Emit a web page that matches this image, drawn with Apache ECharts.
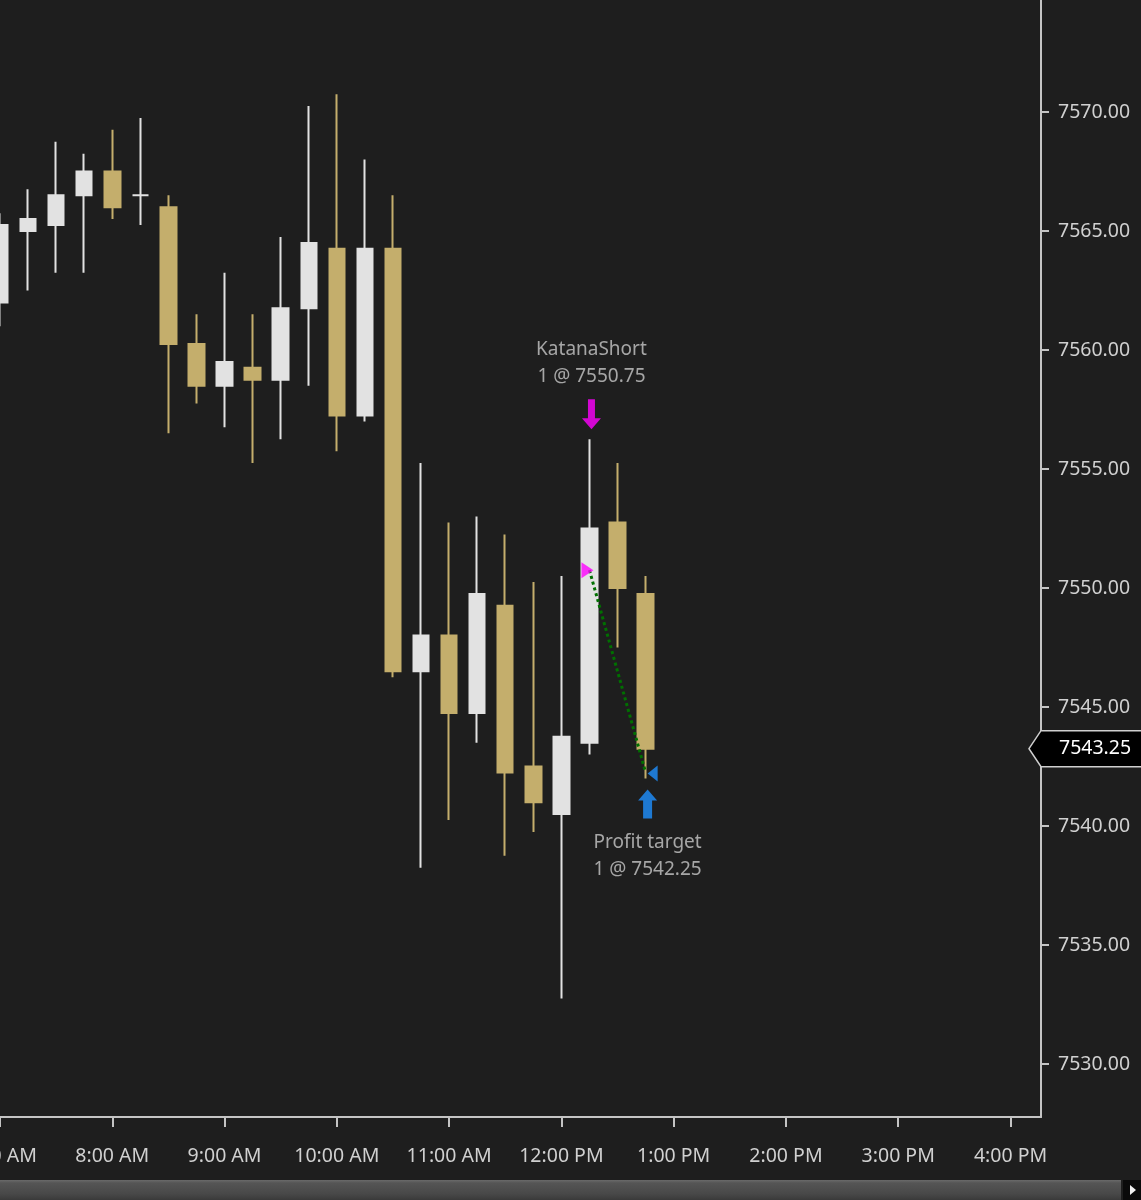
<!DOCTYPE html>
<html>
<head>
<meta charset="utf-8">
<script src="https://cdn.jsdelivr.net/npm/echarts@6/dist/echarts.min.js"></script>
<style>
  html, body { margin: 0; padding: 0; background: #1e1e1e; }
  #chart { width: 1141px; height: 1200px; }
</style>
</head>
<body>
<div id="chart"></div>
<script>
// ---- data ----
const times  = ['7:00','7:15','7:30','7:45','8:00','8:15','8:30','8:45','9:00','9:15','9:30','9:45',
                '10:00','10:15','10:30','10:45','11:00','11:15','11:30','11:45','12:00','12:15','12:30','12:45'];
const opens  = [7562, 7565, 7565.25, 7566.5, 7567.5, 7566.5, 7566, 7560.25, 7558.5, 7559.25, 7558.75, 7561.75,
                7564.25, 7557.25, 7564.25, 7546.5, 7548, 7544.75, 7549.25, 7542.5, 7540.5, 7543.5, 7552.75, 7549.75];
const closes = [7565.25, 7565.5, 7566.5, 7567.5, 7566, 7566.5, 7560.25, 7558.5, 7559.5, 7558.75, 7561.75, 7564.5,
                7557.25, 7564.25, 7546.5, 7548, 7544.75, 7549.75, 7542.25, 7541, 7543.75, 7552.5, 7550, 7543.25];
const lows   = [7561, 7562.5, 7563.25, 7563.25, 7565.5, 7565.25, 7556.5, 7557.75, 7556.75, 7555.25, 7556.25, 7558.5,
                7555.75, 7557, 7546.25, 7538.25, 7540.25, 7543.5, 7538.75, 7539.75, 7532.75, 7543, 7547.5, 7542];
const highs  = [7565.75, 7566.75, 7568.75, 7568.25, 7569.25, 7569.75, 7566.5, 7561.5, 7563.25, 7561.5, 7564.75, 7570.25,
                7570.75, 7568, 7566.5, 7555.25, 7552.75, 7553, 7552.25, 7550.25, 7550.5, 7556.25, 7555.25, 7550.5];

const yTickValues = [7530, 7535, 7540, 7545, 7550, 7555, 7560, 7565, 7570, 7575];
const xTickTimes  = ['7:00','8:00','9:00','10:00','11:00','12:00','13:00','14:00','15:00','16:00'];

const tradeNames  = ['KatanaShort', 'Profit target'];
const tradeQty    = [1, 1];
const tradeTimes  = ['12:15', '12:45'];
const tradePrices = [7550.75, 7542.25];

// ---- helpers ----
const toMin = t => { const p = t.split(':'); return (+p[0]) * 60 + (+p[1]); };
const fmtTime = v => {
  const h = Math.floor(v / 60), m = Math.round(v % 60);
  const ap = h >= 12 ? 'PM' : 'AM';
  const h12 = (h % 12) || 12;
  return h12 + ':' + (m < 10 ? '0' + m : m) + ' ' + ap;
};

const FONT = '"Noto Sans", "Open Sans", sans-serif';
const AXIS_COLOR = '#c4c4c4';
const LABEL_COLOR = '#d0d0d0';
const UP = '#e2e2e2', DOWN = '#c4ae6c';

const X_MIN = 420, X_MAX = 976.3;
const Y_MAX = 7575, Y_MIN = 7527.773;

const candleData = times.map((t, i) => [toMin(t), opens[i], closes[i], lows[i], highs[i]]);
const iEntry = times.indexOf(tradeTimes[0]);
const iExit  = times.indexOf(tradeTimes[1]);

const downArrow = 'path://M6,0 L13,0 L13,19 L19,19 L9.5,30 L0,19 L6,19 Z';
const upArrow   = 'path://M9.5,0 L19,11 L14,11 L14,29 L5,29 L5,11 L0,11 Z';
const triRight  = 'path://M0,0 L12,8 L0,16 Z';
const triLeft   = 'path://M12,0 L12,16 L0,8 Z';

const chart = echarts.init(document.getElementById('chart'));

const option = {
  backgroundColor: '#1e1e1e',
  animation: false,
  textStyle: { fontFamily: FONT },
  grid: { left: 0, right: 100, top: -7, bottom: 83, containLabel: false, outerBoundsMode: 'none' },
  xAxis: {
    type: 'value',
    min: X_MIN, max: X_MAX, interval: 60,
    axisLine: { show: true, lineStyle: { color: AXIS_COLOR, width: 2 } },
    axisTick: { show: true, length: 10, lineStyle: { color: AXIS_COLOR, width: 2 },
                customValues: xTickTimes.map(toMin) },
    axisLabel: { show: true, color: LABEL_COLOR, fontSize: 19.5, fontFamily: FONT, margin: 29,
                 customValues: xTickTimes.map(toMin), formatter: v => fmtTime(v), hideOverlap: false },
    splitLine: { show: false }
  },
  yAxis: {
    type: 'value', position: 'right',
    min: Y_MIN, max: Y_MAX, scale: true,
    axisLine: { show: true, lineStyle: { color: AXIS_COLOR, width: 2 } },
    axisTick: { show: true, length: 8, lineStyle: { color: AXIS_COLOR, width: 2 },
                customValues: yTickValues },
    axisLabel: { show: true, color: LABEL_COLOR, fontSize: 19.5, fontFamily: FONT, margin: 17,
                 customValues: yTickValues, formatter: v => v.toFixed(2) },
    splitLine: { show: false }
  },
  series: [
    {
      type: 'candlestick',
      data: candleData,
      encode: { x: 0, y: [1, 2, 3, 4] },
      barWidth: 16,
      silent: true,
      clip: true,
      itemStyle: { color: UP, color0: DOWN, borderColor: UP, borderColor0: DOWN, borderWidth: 2 },
      markLine: {
        silent: true,
        symbol: ['none', 'none'],
        animation: false,
        label: { show: false },
        lineStyle: { color: '#007000', width: 3, type: 'dotted' },
        data: [[
          { coord: [toMin(tradeTimes[0]), tradePrices[0]] },
          { coord: [toMin(tradeTimes[1]), tradePrices[1]] }
        ]]
      }
    },
    {
      type: 'scatter',
      silent: true,
      z: 5,
      data: [
        {
          value: [toMin(tradeTimes[0]), highs[iEntry]],
          symbol: downArrow, symbolSize: [19, 30], symbolOffset: [2, -25],
          itemStyle: { color: '#ff00ff' },
          label: { show: true, position: 'top', distance: 9, color: '#c8c8c8', fontSize: 19, fontFamily: FONT,
                   lineHeight: 27, align: 'center',
                   formatter: tradeNames[0] + '\n' + tradeQty[0] + ' @ ' + tradePrices[0].toFixed(2) }
        },
        {
          value: [toMin(tradeTimes[1]), lows[iExit]],
          symbol: upArrow, symbolSize: [19, 29], symbolOffset: [2, 25.5],
          itemStyle: { color: '#1e90ff' },
          label: { show: true, position: 'bottom', distance: 11, color: '#c8c8c8', fontSize: 19, fontFamily: FONT,
                   lineHeight: 27, align: 'center',
                   formatter: tradeNames[1] + '\n' + tradeQty[1] + ' @ ' + tradePrices[1].toFixed(2) }
        },
        {
          value: [toMin(tradeTimes[0]), tradePrices[0]],
          symbol: triRight, symbolSize: [12, 16], symbolOffset: [-2, 0],
          itemStyle: { color: '#ff00ff' }
        },
        {
          value: [toMin(tradeTimes[1]), tradePrices[1]],
          symbol: triLeft, symbolSize: [10, 16], symbolOffset: [7, 1],
          itemStyle: { color: '#1e90ff' }
        }
      ]
    }
  ]
};

chart.setOption(option);

// current price marker + scrollbar (positioned from the library's scales)
const lastClose = closes[closes.length - 1];
const yPx = chart.convertToPixel({ yAxisIndex: 0 }, lastClose);
const axisX = chart.convertToPixel({ xAxisIndex: 0 }, X_MAX);
const W = 1141, H = 1200;

chart.setOption({
  graphic: [
    {
      type: 'polygon', z: 100, silent: true,
      shape: { points: [[axisX - 12, yPx], [axisX, yPx - 18], [W + 3, yPx - 18], [W + 3, yPx + 18], [axisX, yPx + 18]] },
      style: { fill: '#000000', stroke: '#cfcfcf', lineWidth: 1.5 }
    },
    {
      type: 'text', z: 101, silent: true,
      x: axisX + 18, y: yPx,
      style: { text: lastClose.toFixed(2), fill: '#ffffff', font: '19.5px ' + FONT, verticalAlign: 'middle', align: 'left' }
    },
    {
      type: 'rect', z: 100, silent: true,
      shape: { x: 0, y: H - 20, width: W - 20, height: 20 },
      style: {
        fill: new echarts.graphic.LinearGradient(0, 0, 0, 1, [
          { offset: 0, color: '#6a6a6a' },
          { offset: 0.15, color: '#555555' },
          { offset: 0.7, color: '#484848' },
          { offset: 1, color: '#3a3a3a' }
        ])
      }
    },
    {
      type: 'rect', z: 100, silent: true,
      shape: { x: W - 18, y: H - 20, width: 18, height: 20 },
      style: { fill: '#0a0a0a' }
    },
    {
      type: 'polygon', z: 101, silent: true,
      shape: { points: [[W - 11, H - 15], [W - 5, H - 10], [W - 11, H - 5]] },
      style: { fill: '#f0f0f0' }
    }
  ]
});
</script>
</body>
</html>
